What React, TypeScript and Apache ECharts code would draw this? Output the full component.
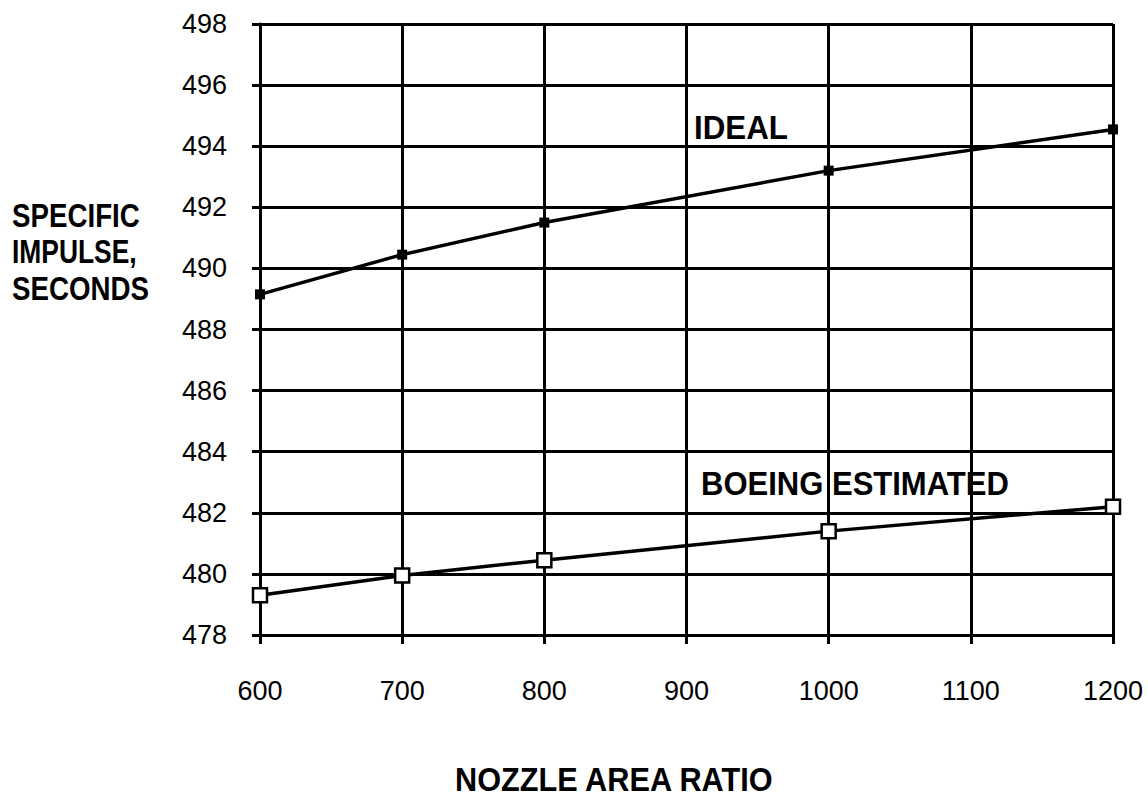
import React, { useEffect, useRef } from "react";
import * as echarts from "echarts";

const xTicks = [600, 700, 800, 900, 1000, 1100, 1200];
const idealX = [600, 700, 800, 1000, 1200];
const idealY = [489.15, 490.45, 491.5, 493.2, 494.55];
const boeingX = [600, 700, 800, 1000, 1200];
const boeingY = [479.3, 479.95, 480.45, 481.4, 482.2];
const yAxisNameLines = ["SPECIFIC", "IMPULSE,", "SECONDS"];
const xAxisName = "NOZZLE AREA RATIO";
const idealLabel = "IDEAL";
const boeingLabel = "BOEING ESTIMATED";

const FONT = "'Liberation Sans', Arial, sans-serif";

export default function App() {
  const ref = useRef<HTMLDivElement>(null);
  useEffect(() => {
    if (!ref.current) return;
    const chart = echarts.init(ref.current, null, { renderer: "svg" });
    const axisLineStyle = { color: "#000", width: 3 };
    const txt = (text: string, x: number, y: number, sx: number) => ({
      type: "text",
      x,
      y,
      scaleX: sx,
      style: {
        text,
        font: `bold 33px ${FONT}`,
        fill: "#000",
        textVerticalAlign: "middle",
        verticalAlign: "middle",
      },
    });
    chart.setOption({
      animation: false,
      backgroundColor: "#fff",
      grid: { left: 260, right: 35, top: 24, bottom: 177, containLabel: false },
      xAxis: {
        type: "value",
        min: xTicks[0],
        max: xTicks[xTicks.length - 1],
        interval: 100,
        axisLine: { show: true, lineStyle: axisLineStyle },
        axisTick: { show: true, length: 9, lineStyle: axisLineStyle },
        splitLine: { show: true, lineStyle: axisLineStyle },
        axisLabel: {
          margin: 42,
          color: "#000",
          fontFamily: FONT,
          fontSize: 27,
          formatter: (v: number) => String(v),
        },
      },
      yAxis: {
        type: "value",
        min: 478,
        max: 498,
        interval: 2,
        axisLine: { show: true, lineStyle: axisLineStyle },
        axisTick: { show: true, length: 8, lineStyle: axisLineStyle },
        splitLine: { show: true, lineStyle: axisLineStyle },
        axisLabel: {
          margin: 33,
          color: "#000",
          fontFamily: FONT,
          fontSize: 27,
          formatter: (v: number) => String(v),
        },
      },
      graphic: [
        txt(yAxisNameLines[0], 12, 215, 0.84),
        txt(yAxisNameLines[1], 12, 251, 0.8),
        txt(yAxisNameLines[2], 12, 288, 0.84),
        txt(xAxisName, 455, 780, 0.93),
        txt(idealLabel, 694, 128, 0.95),
        txt(boeingLabel, 701, 484, 0.94),
      ],
      series: [
        {
          name: "IDEAL",
          type: "line",
          data: idealX.map((x, i) => [x, idealY[i]]),
          symbol: "rect",
          symbolSize: 10,
          itemStyle: { color: "#000" },
          lineStyle: { color: "#000", width: 3.5 },
          z: 5,
        },
        {
          name: "BOEING ESTIMATED",
          type: "line",
          data: boeingX.map((x, i) => [x, boeingY[i]]),
          symbol: "rect",
          symbolSize: 14,
          itemStyle: { color: "#fff", borderColor: "#000", borderWidth: 2.5 },
          lineStyle: { color: "#000", width: 3.5 },
          z: 5,
        },
      ],
    });
    return () => chart.dispose();
  }, []);
  return <div ref={ref} style={{ width: 1148, height: 812, position: "absolute", left: 0, top: 0 }} />;
}
